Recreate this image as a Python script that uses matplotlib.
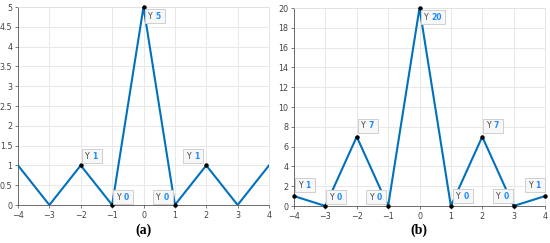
import matplotlib
matplotlib.use("Agg")
import matplotlib.pyplot as plt
from matplotlib.patches import Rectangle
from matplotlib.transforms import Affine2D, ScaledTranslation
import numpy as np

x = [-4, -3, -2, -1, 0, 1, 2, 3, 4]
ya = [1, 0, 1, 0, 5, 0, 1, 0, 1]
yb = [1, 0, 7, 0, 20, 0, 7, 0, 1]

# datatips: (x value, box-left offset px, box-bottom offset px)
tips_a = [(-2, 1, 2), (-1, 1, 1), (0, 1, -16), (1, -22, 1), (2, -23, 2)]
tips_b = [(-4, 1, 4), (-3, 1, 2), (-2, 1, 4), (-1, -22, 2), (0, 1, -16),
          (1, 2, 3), (2, 1, 4), (3, -21, 3), (4, -20, 4)]

fig = plt.figure(figsize=(5.5, 2.43), dpi=100)
ax1 = fig.add_axes([18/550, 1-205/243, 251/550, 198/243])
ax2 = fig.add_axes([294/550, 1-206/243, 251/550, 198/243])

blue = "#0072BD"

def style(ax, ylim, yticks, yticklabels):
    ax.set_xlim(-4, 4)
    ax.set_ylim(*ylim)
    ax.set_xticks(range(-4, 5))
    ax.set_xticklabels([("\u2212%d" % -v) if v < 0 else str(v) for v in range(-4, 5)])
    ax.set_yticks(yticks)
    ax.set_yticklabels(yticklabels)
    ax.grid(True, color="#e8e8e8", linewidth=0.7)
    ax.set_axisbelow(True)
    for s in ax.spines.values():
        s.set_color("#e0e0e0")
        s.set_linewidth(0.6)
    ax.spines["bottom"].set_color("#555555")
    ax.spines["left"].set_color("#555555")
    ax.tick_params(labelsize=5.8, colors="#444444", length=2, width=0.5, pad=2)

def tips(ax, xs, ys, tlist):
    for (tx, bx, by) in tlist:
        ty = ys[xs.index(tx)]
        ax.plot([tx], [ty], "o", color="black", markersize=2.2, zorder=5, clip_on=False)
        trans = Affine2D() + ScaledTranslation(tx, ty, ax.transData)
        label = "%d" % ty
        w, h = (20 if len(label) == 1 else 24), 14
        ax.add_patch(Rectangle((bx, by), w, h, transform=trans, facecolor="#f7f7f7",
                               edgecolor="#cfcfcf", linewidth=0.7, zorder=6, clip_on=False))
        ax.text(bx + 3.5, by + h / 2, "Y", transform=trans, fontsize=5.5, color="#404040",
                va="center", ha="left", zorder=7, clip_on=False)
        ax.text(bx + 10.5, by + h / 2, label, transform=trans, fontsize=5.5,
                color="#1a8cff", fontweight="bold", va="center", ha="left", zorder=7,
                clip_on=False)

ax1.plot(x, ya, color=blue, linewidth=1.5, zorder=3)
style(ax1, (0, 5), np.arange(0, 5.01, 0.5),
      ["0", "0.5", "1", "1.5", "2", "2.5", "3", "3.5", "4", "4.5", "5"])
ax2.plot(x, yb, color=blue, linewidth=1.5, zorder=3)
style(ax2, (0, 20), range(0, 21, 2), [str(v) for v in range(0, 21, 2)])

tips(ax1, x, ya, tips_a)
tips(ax2, x, yb, tips_b)

fig.text(144/550, 1-230/243, "(a)", ha="center", va="center", fontsize=10,
         fontweight="bold", family="Liberation Serif")
fig.text(419/550, 1-230/243, "(b)", ha="center", va="center", fontsize=10,
         fontweight="bold", family="Liberation Serif")

fig.savefig("out.png", dpi=100)
